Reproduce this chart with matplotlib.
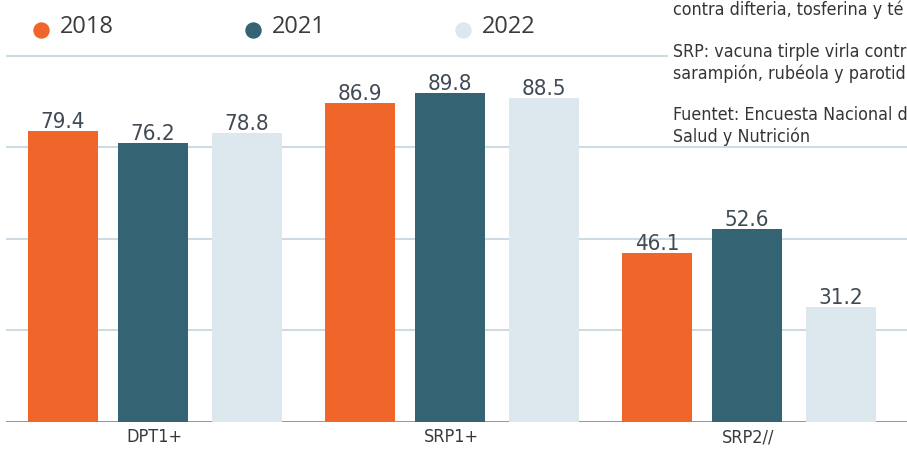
import matplotlib
matplotlib.use("Agg")
import matplotlib.pyplot as plt
from matplotlib.lines import Line2D
from matplotlib.patches import Rectangle
import numpy as np

categories = ["DPT1+", "SRP1+", "SRP2//"]
years = ["2018", "2021", "2022"]
values_2018 = [79.4, 86.9, 46.1]
values_2021 = [76.2, 89.8, 52.6]
values_2022 = [78.8, 88.5, 31.2]
note_lines = [
    "contra difteria, tosferina y té",
    "SRP: vacuna tirple virla contr",
    "sarampión, rubéola y parotid",
    "Fuentet: Encuesta Nacional d",
    "Salud y Nutrición",
]

COLORS = ["#f0652a", "#346374", "#dde7ee"]
W, H = 907, 454

cond = dict(family="DejaVu Sans", fontstretch="condensed")

fig = plt.figure(figsize=(W / 100, H / 100), dpi=100)
ax = fig.add_axes([6 / W, 32.5 / H, 901 / W, 421.5 / H])

x = np.arange(len(categories))
offsets = [-0.303, 0.0, 0.316]
width = 0.236
series = [values_2018, values_2021, values_2022]

for vals, off, color in zip(series, offsets, COLORS):
    ax.bar(x + off, vals, width=width, color=color, zorder=3)
    for xi, v in zip(x + off, vals):
        ax.annotate(f"{v:.1f}", (xi, v), xytext=(0, 3), textcoords="offset pixels",
                    ha="center", va="baseline", fontsize=16, color="#3f4a55",
                    zorder=4, **cond)

ax.set_xlim(-0.495, 2.539)
ax.set_ylim(0, 421.5 / 3.66)
ax.set_yticks([25, 50, 75, 100])
ax.yaxis.grid(True, color="#cfdbe3", linewidth=1.5, zorder=1)
ax.axhline(0, color="#8c8c8c", linewidth=2, zorder=2)
for s in ax.spines.values():
    s.set_visible(False)
ax.tick_params(axis="y", left=False, labelleft=False)
ax.set_xticks(x + 0.005)
ax.set_xticklabels(categories, fontsize=13, color="#3a3a3a", **cond)
ax.tick_params(axis="x", length=0, pad=5)

# legend drawn by hand
dot_x = [40.7, 253, 463]
text_x = [60, 272, 482]
for dx, tx, label, color in zip(dot_x, text_x, years, COLORS):
    fig.add_artist(Line2D([dx / W], [1 - 30 / H], marker="o", markersize=10.8,
                          color=color, linestyle="none", transform=fig.transFigure))
    fig.text(tx / W, 1 - 33 / H, label, fontsize=17, family=["Open Sans", "DejaVu Sans"],
             color="#3b3b3b", va="baseline", ha="left")

# note block on the right, white box hides the top grid line
fig.add_artist(Rectangle((668 / W, 1 - 146 / H), (W - 668) / W, 146 / H,
                         facecolor="white", edgecolor="none", transform=fig.transFigure, zorder=1))
note_baselines = [15, 57, 79, 120, 142]
for line, yb in zip(note_lines, note_baselines):
    fig.text(673 / W, 1 - yb / H, line, fontsize=12.8, color="#353535",
             va="baseline", ha="left", **cond)

fig.savefig("out.png", dpi=100)
